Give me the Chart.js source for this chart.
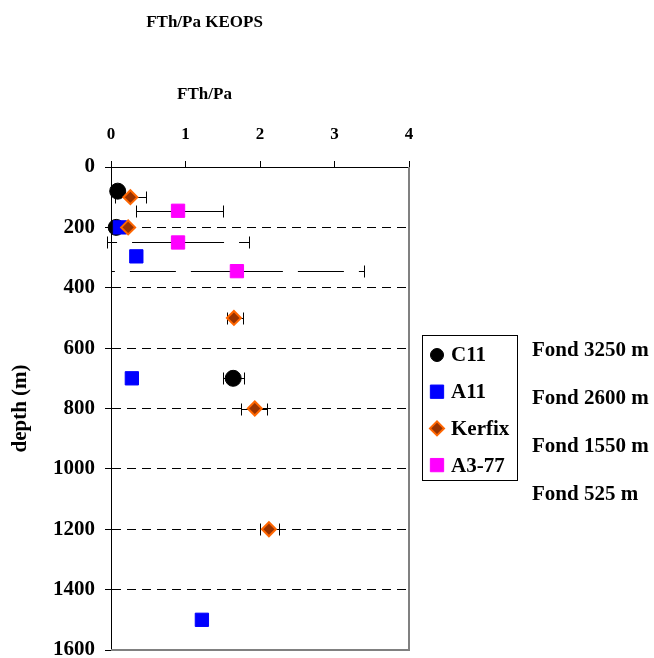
<!DOCTYPE html>
<html>
<head>
<meta charset="utf-8">
<title>FTh/Pa KEOPS</title>
<script src="https://cdn.jsdelivr.net/npm/chart.js@4.4.1/dist/chart.umd.min.js"></script>
<style>
  html, body { margin: 0; padding: 0; background: #fff; }
  #chart { display: block; }
</style>
</head>
<body>
<canvas id="chart" width="654" height="658"></canvas>
<script>
// ===== Data =====
const xTicks = [0, 1, 2, 3, 4];
const depthTicks = [0, 200, 400, 600, 800, 1000, 1200, 1400, 1600];

const c11X = [0.09, 0.07, 1.64];
const c11Depth = [80, 200, 700];
const c11ErrLow = [null, null, 1.50];
const c11ErrHigh = [null, null, 1.79];

const a11X = [0.12, 0.34, 0.28, 1.22];
const a11Depth = [200, 296, 700, 1500];
const a11ErrLow = [null, null, null, null];
const a11ErrHigh = [null, null, null, null];

const kerfixX = [0.26, 0.23, 1.65, 1.93, 2.12];
const kerfixDepth = [100, 200, 500, 800, 1200];
const kerfixErrLow = [0.05, null, 1.56, 1.74, 2.00];
const kerfixErrHigh = [0.47, null, 1.77, 2.09, 2.26];

const a377X = [0.90, 0.90, 1.69];
const a377Depth = [145, 250, 345];
const a377ErrLow = [0.33, -0.05, 0.00];
const a377ErrHigh = [1.50, 1.85, 3.40];

const fondLabels = ['Fond 3250 m', 'Fond 2600 m', 'Fond 1550 m', 'Fond 525 m'];

// ===== Helpers =====
const FONT = 'Liberation Serif, Times New Roman, serif';
const toPoints = (xs, ys) => xs.map((x, i) => ({ x: x, y: ys[i] }));

// error bars: each half drawn from the marker outwards (long dash), with end caps
const errorBars = {
  id: 'errorBars',
  beforeDatasetsDraw(chart) {
    const { ctx, scales: { x, y } } = chart;
    ctx.save();
    ctx.strokeStyle = '#000';
    ctx.lineWidth = 1;
    chart.data.datasets.forEach(ds => {
      ds.data.forEach((p, i) => {
        const lo = ds.errLow[i], hi = ds.errHigh[i];
        if (lo == null || hi == null) return;
        const px = x.getPixelForValue(p.x);
        const py = Math.round(y.getPixelForValue(p.y)) + 0.5;
        [lo, hi].forEach(v => {
          const ex = Math.round(x.getPixelForValue(v)) + 0.5;
          ctx.setLineDash([46, 15]);
          ctx.beginPath();
          ctx.moveTo(px, py);
          ctx.lineTo(ex, py);
          ctx.stroke();
          ctx.setLineDash([]);
          ctx.beginPath();
          ctx.moveTo(ex, py - 6);
          ctx.lineTo(ex, py + 6);
          ctx.stroke();
        });
      });
    });
    ctx.restore();
  }
};

// gray right/bottom frame, boxed legend and the "Fond" notes
const extras = {
  id: 'extras',
  afterDraw(chart) {
    const { ctx, chartArea: a } = chart;
    ctx.save();
    ctx.strokeStyle = '#808080';
    ctx.lineWidth = 2;
    ctx.beginPath();
    ctx.moveTo(a.right, a.top);
    ctx.lineTo(a.right, a.bottom);
    ctx.lineTo(a.left, a.bottom);
    ctx.stroke();

    // legend
    ctx.strokeStyle = '#000';
    ctx.lineWidth = 1;
    ctx.strokeRect(422.5, 335.5, 95, 145);
    ctx.font = 'bold 21px ' + FONT;
    ctx.textBaseline = 'middle';
    ctx.fillStyle = '#000';
    chart.data.datasets.forEach((ds, i) => {
      const ly = 355 + i * 36.7;
      ctx.fillStyle = ds.backgroundColor;
      ctx.strokeStyle = ds.borderColor;
      ctx.lineWidth = ds.borderWidth;
      Chart.helpers.drawPoint(ctx, {
        pointStyle: ds.pointStyle,
        radius: ds.legendRadius,
        rotation: 0,
        borderWidth: ds.borderWidth
      }, 437, ly);
      ctx.fillStyle = '#000';
      ctx.fillText(ds.label, 451, ly + 1);
    });

    // notes
    fondLabels.forEach((t, i) => {
      ctx.fillText(t, 532, 351 + i * 47.7);
    });
    ctx.restore();
  }
};

// ===== Chart =====
const ctx = document.getElementById('chart').getContext('2d');
new Chart(ctx, {
  type: 'scatter',
  data: {
    datasets: [
      {
        label: 'C11',
        data: toPoints(c11X, c11Depth),
        errLow: c11ErrLow, errHigh: c11ErrHigh,
        pointStyle: 'circle', pointRadius: 8, legendRadius: 6.5,
        backgroundColor: '#000', borderColor: '#000', borderWidth: 1,
        order: 4
      },
      {
        label: 'A11',
        data: toPoints(a11X, a11Depth),
        errLow: a11ErrLow, errHigh: a11ErrHigh,
        pointStyle: 'rect', pointRadius: 9.4, legendRadius: 9.4,
        backgroundColor: '#0000ff', borderColor: '#0000ff', borderWidth: 1,
        order: 3
      },
      {
        label: 'Kerfix',
        data: toPoints(kerfixX, kerfixDepth),
        errLow: kerfixErrLow, errHigh: kerfixErrHigh,
        pointStyle: 'rectRot', pointRadius: 7, legendRadius: 7,
        backgroundColor: '#993300', borderColor: '#ff6600', borderWidth: 2,
        order: 2
      },
      {
        label: 'A3-77',
        data: toPoints(a377X, a377Depth),
        errLow: a377ErrLow, errHigh: a377ErrHigh,
        pointStyle: 'rect', pointRadius: 9.4, legendRadius: 9.4,
        backgroundColor: '#ff00ff', borderColor: '#ff00ff', borderWidth: 1,
        order: 1
      }
    ]
  },
  options: {
    responsive: false,
    animation: false,
    devicePixelRatio: 1,
    clip: false,
    layout: { autoPadding: false, padding: { left: 0, right: 245, top: 0, bottom: 8 } },
    elements: { point: { hoverRadius: 8 } },
    plugins: {
      legend: { display: false },
      tooltip: { enabled: false },
      title: {
        display: true,
        text: 'FTh/Pa KEOPS',
        color: '#000',
        font: { family: FONT, size: 17, weight: 'bold' },
        padding: { top: 12, bottom: 52 }
      },
      subtitle: {
        display: true,
        text: 'FTh/Pa',
        color: '#000',
        font: { family: FONT, size: 17, weight: 'bold' },
        padding: { top: 0, bottom: 0 }
      }
    },
    scales: {
      x: {
        type: 'linear',
        position: 'top',
        min: 0,
        max: 4,
        afterBuildTicks: s => { s.ticks = xTicks.map(v => ({ value: v })); },
        afterFit: s => { s.height = 62.2; s.paddingLeft = 0; s.paddingRight = 0; },
        ticks: {
          color: '#000',
          padding: 16,
          callback: v => String(v),
          font: { family: FONT, size: 17, weight: 'bold' }
        },
        grid: { drawOnChartArea: false, tickLength: 6, tickColor: '#000' },
        border: { color: '#000', width: 1 }
      },
      y: {
        type: 'linear',
        reverse: true,
        min: 0,
        max: 1600,
        afterBuildTicks: s => { s.ticks = depthTicks.map(v => ({ value: v })); },
        afterFit: s => { s.width = 111; s.paddingTop = 0; s.paddingBottom = 0; },
        ticks: {
          color: '#000',
          padding: 10,
          callback: v => String(v),
          font: { family: FONT, size: 21, weight: 'bold' }
        },
        title: {
          display: true,
          text: 'depth (m)',
          color: '#000',
          padding: { top: 8, bottom: 0 },
          font: { family: FONT, size: 21, weight: 'bold' }
        },
        grid: {
          color: c => (c.tick.value === 0 || c.tick.value === 1600) ? 'rgba(0,0,0,0)' : '#000',
          tickColor: '#000',
          tickLength: 6,
          lineWidth: 1
        },
        border: { color: '#000', width: 1, dash: [9, 6] }
      }
    }
  },
  plugins: [errorBars, extras]
});
</script>
</body>
</html>
